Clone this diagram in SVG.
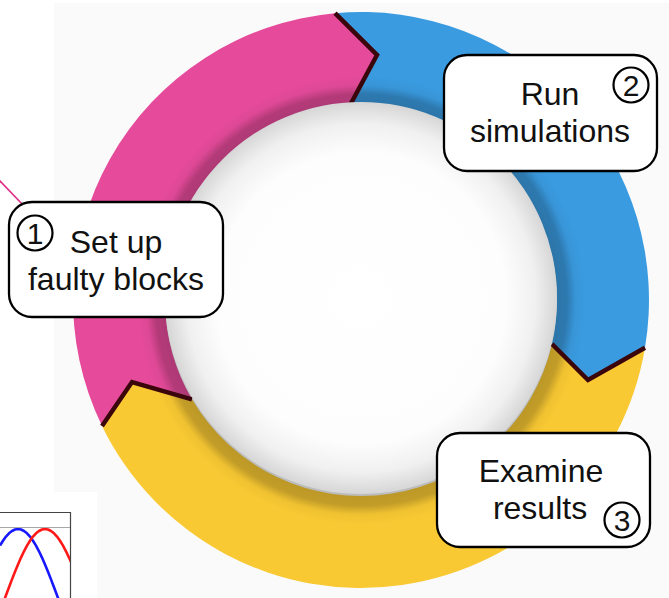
<svg xmlns="http://www.w3.org/2000/svg" width="669" height="598" viewBox="0 0 669 598">
  <style>
    .box { fill: #ffffff; stroke: #000000; stroke-width: 2.3; }
    .lbl { font-family: "Liberation Sans", Arial, Helvetica, sans-serif; font-size: 32px; fill: #111111; text-anchor: middle; }
    .num { font-family: "Liberation Sans", Arial, Helvetica, sans-serif; font-size: 30px; fill: #111111; text-anchor: middle; }
    .numring { fill: none; stroke: #000000; stroke-width: 2.2; }
    .seam { fill: none; stroke: #3a060b; stroke-width: 4.5; stroke-linejoin: miter; stroke-linecap: butt; }
  </style>
  <defs>
    <radialGradient id="innerShade" gradientUnits="userSpaceOnUse" cx="361" cy="300" r="288">
      <stop offset="0.66" stop-color="#000" stop-opacity="0.26"/>
      <stop offset="0.715" stop-color="#000" stop-opacity="0.22"/>
      <stop offset="0.745" stop-color="#000" stop-opacity="0.04"/>
      <stop offset="0.78" stop-color="#000" stop-opacity="0"/>
      <stop offset="1" stop-color="#000" stop-opacity="0"/>
    </radialGradient>
    <radialGradient id="hubFill" gradientUnits="userSpaceOnUse" cx="361" cy="298" r="196">
      <stop offset="0" stop-color="#ffffff"/>
      <stop offset="0.74" stop-color="#fdfdfd"/>
      <stop offset="0.89" stop-color="#f0f0f0"/>
      <stop offset="1" stop-color="#d6d6d6"/>
    </radialGradient>
    <clipPath id="plotClip">
      <rect x="0" y="513" width="70" height="85"/>
    </clipPath>
  </defs>

  <!-- page backdrop -->
  <rect x="0" y="0" width="669" height="598" fill="#ffffff"/>
  <path d="M54,3 H669 V598 H97 V492 H54 Z" fill="#fafafa"/>

  <!-- small waveform plot, bottom-left -->
  <g id="plot">
    <rect x="0" y="492" width="97" height="106" fill="#ffffff"/>
    <g clip-path="url(#plotClip)" fill="none" stroke-width="2.6" stroke-linejoin="round">
      <polyline stroke="#1818ff" points="0,545.6 3,540.7 6,536.6 9,533.3 12,531 15,529.5 18,529 21,529.5 24,531 27,533.3 30,536.6 33,540.7 36,545.6 39,551.3 42,557.6 45,564.4 48,571.7 51,579.4 54,587.3 57,595.3 60,603.3"/>
      <polyline stroke="#ff1818" points="3,603.3 6,595.3 9,587.3 12,579.4 15,571.7 18,564.4 21,557.6 24,551.3 27,545.6 30,540.7 33,536.6 36,533.3 39,531 42,529.5 45,529 48,529.5 51,531 54,533.3 57,536.6 60,540.7 63,545.6 66,551.3 69,557.6 72,564.4"/>
    </g>
    <line x1="0" y1="527.5" x2="70" y2="527.5" stroke="#a8a8a8" stroke-width="1"/>
    <polyline points="0,512.5 70.5,512.5 70.5,598" fill="none" stroke="#444444" stroke-width="1.2"/>
  </g>

  <!-- pink leader line -->
  <line x1="-1" y1="180" x2="24" y2="206" stroke="#e0358a" stroke-width="1.8"/>

  <!-- cycle ring -->
  <g id="ring">
    <path id="seg-pink" fill="#e64b9b" d="M102,425.9 A288,288 0 0 1 335,13.2 L377,55 L350.5,104.3 A196,196 0 0 0 192,399.3 L132,382 Z"/>
    <path id="seg-blue" fill="#3a9be0" d="M335,13.2 A288,288 0 0 1 645,347.8 L588,380 L552,344 A196,196 0 0 0 350.5,104.3 L377,55 Z"/>
    <path id="seg-yellow" fill="#f9c933" d="M645,347.8 A288,288 0 0 1 102,425.9 L132,382 L192,399.3 A196,196 0 0 0 552,344 L588,380 Z"/>
    <circle cx="361" cy="300" r="288" fill="url(#innerShade)"/>
  </g>

  <!-- arrow-head seams -->
  <g id="connectors">
    <polyline class="seam" points="335,13.2 377,55 350.5,104.3"/>
    <polyline class="seam" points="645,347.8 588,380 552,344"/>
    <polyline class="seam" points="102,425.9 132,382 192,399.3"/>
  </g>

  <!-- hub -->
  <circle id="hub" cx="361" cy="298" r="196" fill="url(#hubFill)"/>

  <!-- step 1 -->
  <g id="step1">
    <rect class="box" x="9" y="202" width="214" height="115" rx="23"/>
    <circle class="numring" cx="35" cy="233" r="17.5"/>
    <text class="num" x="35" y="243.5">1</text>
    <text class="lbl" x="116" y="253">Set up</text>
    <text class="lbl" x="116" y="290">faulty blocks</text>
  </g>

  <!-- step 2 -->
  <g id="step2">
    <rect class="box" x="444" y="55" width="213" height="116" rx="23"/>
    <circle class="numring" cx="631" cy="85" r="17.5"/>
    <text class="num" x="631" y="95.5">2</text>
    <text class="lbl" x="550" y="105">Run</text>
    <text class="lbl" x="550" y="142">simulations</text>
  </g>

  <!-- step 3 -->
  <g id="step3">
    <rect class="box" x="437" y="433" width="213" height="114" rx="23"/>
    <circle class="numring" cx="622" cy="520" r="17.5"/>
    <text class="num" x="622" y="530.5">3</text>
    <text class="lbl" x="541" y="482">Examine</text>
    <text class="lbl" x="540" y="519">results</text>
  </g>
</svg>
